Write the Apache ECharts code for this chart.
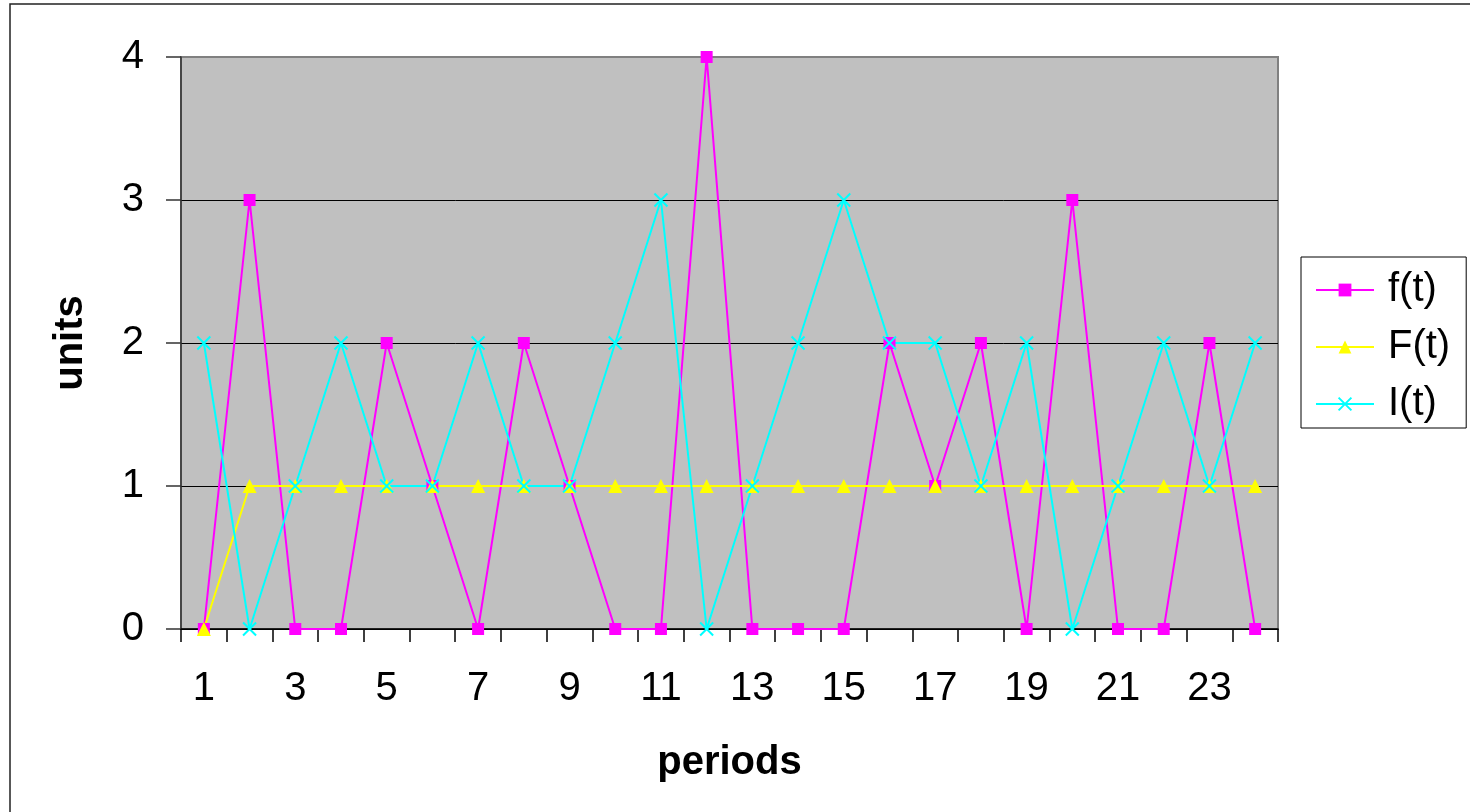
<!DOCTYPE html>
<html>
<head>
<meta charset="utf-8">
<script src="https://cdn.jsdelivr.net/npm/echarts@6/dist/echarts.min.js"></script>
<style>
html,body{margin:0;padding:0;background:#fff;}
#chart{width:1470px;height:812px;}
</style>
</head>
<body>
<div id="chart"></div>
<script>
const periods = ['1','2','3','4','5','6','7','8','9','10','11','12','13','14','15','16','17','18','19','20','21','22','23','24'];
const fValues = [0,3,0,0,2,1,0,2,1,0,0,4,0,0,0,2,1,2,0,3,0,0,2,0];
const FValues = [0,1,1,1,1,1,1,1,1,1,1,1,1,1,1,1,1,1,1,1,1,1,1,1];
const IValues = [2,0,1,2,1,1,2,1,1,2,3,0,1,2,3,2,2,1,2,0,1,2,1,2];
const seriesNames = ['f(t)','F(t)','I(t)'];
const yTicks = [0,1,2,3,4];

const chart = echarts.init(document.getElementById('chart'));
const FONT = 'Liberation Sans, Arial, sans-serif';
const option = {
  animation: false,
  backgroundColor: '#ffffff',
  graphic: [{
    type: 'rect', z: -10, silent: true,
    shape: {x: 10, y: 4, width: 1500, height: 900},
    style: {fill: 'none', stroke: '#222', lineWidth: 1.5}
  }],
  grid: {
    left: 181, right: 192, top: 57, bottom: 183,
    show: true, backgroundColor: '#C0C0C0', borderColor: '#808080', borderWidth: 2
  },
  legend: {
    orient: 'vertical',
    left: 1301, top: 257,
    padding: [13, 16, 4, 14],
    itemGap: 17,
    itemWidth: 58, itemHeight: 16,
    borderColor: '#000', borderWidth: 1,
    backgroundColor: '#fff',
    data: seriesNames,
    textStyle: {fontFamily: FONT, fontSize: 40, color: '#000', lineHeight: 40, padding: [0,0,0,9]}
  },
  xAxis: {
    type: 'category',
    data: periods,
    boundaryGap: true,
    name: 'periods',
    nameLocation: 'middle',
    nameGap: 114,
    nameTextStyle: {fontFamily: FONT, fontSize: 40, fontWeight: 'bold', color: '#000'},
    axisLine: {lineStyle: {color: '#000', width: 1.5}},
    axisTick: {show: true, interval: 0, length: 13, lineStyle: {color: '#000', width: 1.5}},
    axisLabel: {interval: 1, margin: 40, fontFamily: FONT, fontSize: 40, color: '#000'},
    splitLine: {show: false}
  },
  yAxis: {
    type: 'value',
    min: yTicks[0], max: yTicks[yTicks.length - 1], interval: 1,
    name: 'units',
    nameLocation: 'middle',
    nameGap: 90,
    nameRotate: 90,
    nameTextStyle: {fontFamily: FONT, fontSize: 40, fontWeight: 'bold', color: '#000'},
    axisLine: {show: true, lineStyle: {color: '#333', width: 1.5}},
    axisTick: {show: true, length: 15, lineStyle: {color: '#333', width: 1.5}},
    axisLabel: {margin: 37, fontFamily: FONT, fontSize: 40, color: '#000'},
    splitLine: {show: true, lineStyle: {color: ['#000','#000','#000','#000','#808080'], width: 1}}
  },
  series: [
    {
      name: seriesNames[0], type: 'line', data: fValues,
      symbol: 'rect', symbolSize: 12,
      lineStyle: {color: '#FF00FF', width: 2},
      itemStyle: {color: '#FF00FF'}
    },
    {
      name: seriesNames[1], type: 'line', data: FValues,
      symbol: 'triangle', symbolSize: 14,
      lineStyle: {color: '#FFFF00', width: 2},
      itemStyle: {color: '#FFFF00'}
    },
    {
      name: seriesNames[2], type: 'line', data: IValues,
      symbol: 'path://M0,0L10,10M0,10L10,0', symbolSize: 13,
      lineStyle: {color: '#00FFFF', width: 2},
      itemStyle: {color: '#00FFFF', borderColor: '#00FFFF', borderWidth: 2}
    }
  ]
};
chart.setOption(option);
</script>
</body>
</html>
